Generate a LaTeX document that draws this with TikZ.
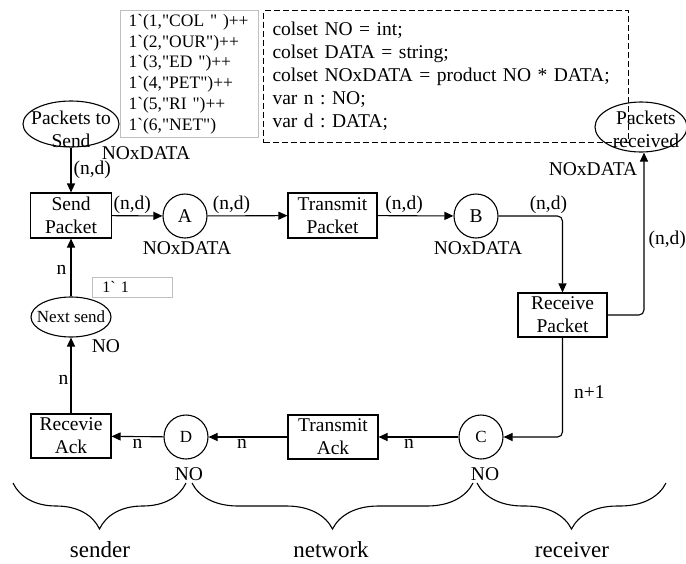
\documentclass[tikz,border=0pt]{standalone}
\usepackage{fontspec}
\setmainfont{Liberation Serif}
\usepackage{tikz}
\usetikzlibrary{positioning,arrows.meta,shapes.geometric,decorations.pathreplacing}
\newcommand{\dq}{\textquotedbl}
\frenchspacing

\begin{document}
\begin{tikzpicture}[x=1pt,y=-1pt, line width=1.1pt,
  every node/.style={font=\fontsize{19.5}{23}\selectfont},
  trans/.style={draw, minimum width=89pt, minimum height=45pt, align=center, inner sep=0pt},
  place/.style={draw, circle, minimum size=44pt, inner sep=0pt},
  pool/.style={draw, ellipse, inner sep=0pt},
  arc/.style={draw, -{Triangle[length=9pt,width=8pt]}, rounded corners=5pt},
  lbl/.style={inner sep=2pt},
  brc/.style={decorate, decoration={brace, mirror, amplitude=46pt}}]
  \useasboundingbox (0,0) rectangle (686,563);

  \node[draw=black!25, align=left, anchor=north west, text width=122pt, inner xsep=8pt,
        minimum height=127pt, font=\fontsize{17.5}{20.8}\selectfont] (init) at (120,10) {%
    1\textasciigrave(1,\dq COL \dq{} )++\\
    1\textasciigrave(2,\dq OUR\dq)++\\
    1\textasciigrave(3,\dq ED \dq)++\\
    1\textasciigrave(4,\dq PET\dq)++\\
    1\textasciigrave(5,\dq RI \dq)++\\
    1\textasciigrave(6,\dq NET\dq)};
  \node[draw, dash pattern=on 6pt off 3pt, align=left, anchor=north west, text width=347pt,
        inner xsep=9pt, minimum height=132pt] (decl) at (263,10) {%
    colset NO = int;\\
    colset DATA = string;\\
    colset NOxDATA = product NO * DATA;\\
    var n : NO;\\
    var d : DATA;};

  \node[pool, minimum width=96pt, minimum height=46pt] (pts) at (71,124) {};
  \node[align=center] (ptsT) at (71,129) {Packets to\\Send};
  \node[pool, minimum width=92pt, minimum height=50pt] (prcv) at (641,127) {};
  \node[align=center] (prcvT) at (646,129) {Packets\\received};
  \node[pool, minimum width=80pt, minimum height=40pt] (ns) at (71,317) {};
  \node[font=\fontsize{17}{20}\selectfont] (nsT) at (71,317) {Next send};

  \node[trans, minimum width=81pt] (sp) at (71,215.5) {Send\\Packet};
  \node[place] (A) at (185,216) {A};
  \node[trans] (tp) at (332.5,215.5) {Transmit\\Packet};
  \node[place] (B) at (476,216) {B};
  \node[trans, minimum height=44pt] (rp) at (562.5,315) {Receive\\Packet};
  \node[trans, minimum width=80pt, minimum height=44pt] (ra) at (71,436) {Recevie\\Ack};
  \node[place, font=\fontsize{17}{20}\selectfont] (D) at (186,437) {D};
  \node[trans, minimum width=90pt, minimum height=44pt] (ta) at (333,437) {Transmit\\Ack};
  \node[place, font=\fontsize{17}{20}\selectfont] (C) at (481,437) {C};

  \node[draw=black!25, line width=0.6pt, align=left, anchor=north west, text width=60pt, inner xsep=10pt,
        minimum height=20pt, inner ysep=0pt, font=\fontsize{16}{18}\selectfont] (init1) at (92,277) {1\textasciigrave{} 1};

  \node (tPts) at (146,153) {NOxDATA};
  \node (tPrcv) at (593,169) {NOxDATA};
  \node (tA) at (187,248) {NOxDATA};
  \node (tB) at (478,248) {NOxDATA};
  \node (tNs) at (106,346) {NO};
  \node (tD) at (189,474) {NO};
  \node (tC) at (485,474) {NO};

  \draw[arc] (pts) -- node[lbl, right] (e1) {(n,d)} (sp);
  \draw[arc] (sp) -- node[lbl, above, pos=0.4] (e2) {(n,d)} (A);
  \draw[arc] (A) -- node[lbl, above, pos=0.3] (e3) {(n,d)} (tp);
  \draw[arc] (tp) -- node[lbl, above, pos=0.35] (e4) {(n,d)} (B);
  \draw[arc] (B) -| node[lbl, above, pos=0.39] (e5) {(n,d)} (rp);
  \draw[arc] (rp) -| node[lbl, right, pos=0.73, xshift=2pt] (e6) {(n,d)} ([xshift=3pt]prcv.south);
  \draw[arc] (rp) |- node[lbl, right, pos=0.275, xshift=9pt] (e7) {n+1} (C);
  \draw[arc] (C) -- node[lbl, below, pos=0.62] (e8) {n} (ta);
  \draw[arc] (ta) -- node[lbl, below, pos=0.575] (e9) {n} (D);
  \draw[arc] (D) -- node[lbl, below] (e10) {n} (ra);
  \draw[arc] (ra) -- node[lbl, left, pos=0.44] (e11) {n} (ns);
  \draw[arc] (ns) -- node[lbl, left, pos=0.46, xshift=-2pt] (e12) {n} (sp);

  \draw[brc] (13,483) -- (186,483);
  \draw[brc] (192,483) -- (473,483);
  \draw[brc] (477,483) -- (666,483);
  \node[font=\fontsize{23}{26}\selectfont] (sender) at (100,550) {sender};
  \node[font=\fontsize{23}{26}\selectfont] (network) at (331,550) {network};
  \node[font=\fontsize{23}{26}\selectfont] (receiver) at (572,550) {receiver};
\end{tikzpicture}
\end{document}
